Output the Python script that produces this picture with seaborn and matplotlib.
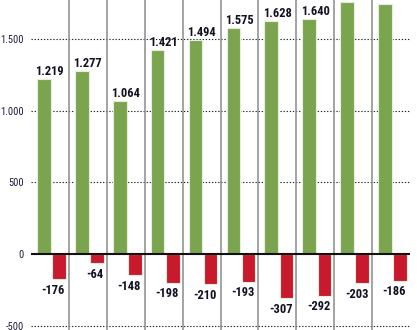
import matplotlib
matplotlib.use("Agg")
import matplotlib.pyplot as plt
from matplotlib import font_manager as fm
from matplotlib.ticker import FuncFormatter
import seaborn as sns
import pandas as pd

# ---- data ----
groups = [str(i) for i in range(1, 11)]
positive = [1219, 1277, 1064, 1421, 1494, 1575, 1628, 1640, 1757, 1744]
negative = [-176, -64, -148, -198, -210, -193, -307, -292, -203, -186]
show_pos_label = [True] * 8 + [False, False]
yticks = [-500, 0, 500, 1000, 1500]

GREEN = "#7ba44f"
RED = "#c81a2c"

available = {f.name for f in fm.fontManager.ttflist}
FONT = next((f for f in ["Roboto Condensed", "Archivo Narrow", "PT Sans Narrow",
                         "Barlow Semi Condensed", "Fira Sans Condensed", "Roboto"]
             if f in available), "DejaVu Sans")

sns.set_theme(style="white")
plt.rcParams["font.family"] = [FONT, "DejaVu Sans"]

df = pd.DataFrame({
    "group": groups * 2,
    "value": positive + negative,
    "kind": ["pos"] * len(groups) + ["neg"] * len(groups),
})

fig = plt.figure(figsize=(4.17, 3.30), dpi=100)
ax = fig.add_axes([31 / 417, 0, 379 / 417, 1])

sns.barplot(data=df, x="group", y="value", hue="kind",
            palette={"pos": GREEN, "neg": RED}, hue_order=["pos", "neg"],
            width=0.8, gap=0.1, saturation=1, legend=False, ax=ax,
            edgecolor="#e6eedf", linewidth=0.8, zorder=3)

ax.set_xlim(-0.54, len(groups) - 0.54)
ax.set_ylim(-528, 1771)

for s in ax.spines.values():
    s.set_visible(False)
ax.set_xlabel("")
ax.set_ylabel("")
ax.set_xticks([])
ax.set_yticks(yticks)
ax.yaxis.set_major_formatter(FuncFormatter(lambda v, p: f"{int(v):,}".replace(",", ".")))
ax.tick_params(axis="y", length=0, pad=5, labelsize=7.5, labelcolor="#1b1b3f")

for y in yticks:
    if y != 0:
        ax.axhline(y, color="#222222", linestyle=(0, (1.2, 1.6)), linewidth=0.8, zorder=1)
ax.axhline(0, color="#111111", linewidth=1.5, zorder=4)

for i in range(len(groups) - 1):
    ax.axvline(i + 0.46, color="#8a8a8a", linewidth=1.1, zorder=2)

pos_bars = ax.containers[0]
neg_bars = ax.containers[1]
for bar, v, show in zip(pos_bars, positive, show_pos_label):
    if not show:
        continue
    ax.text(bar.get_x() - 0.04, v + 28, f"{v:,}".replace(",", "."), ha="left", va="baseline",
            fontsize=9, fontweight="bold", color="#111122", zorder=5, clip_on=True)
for bar, v in zip(neg_bars, negative):
    ax.text(bar.get_x() + bar.get_width() - 0.02, v - 100, f"{v}", ha="right", va="baseline",
            fontsize=9, fontweight="bold", color="#111122", zorder=5, clip_on=True)

fig.savefig("out.png", dpi=100)
